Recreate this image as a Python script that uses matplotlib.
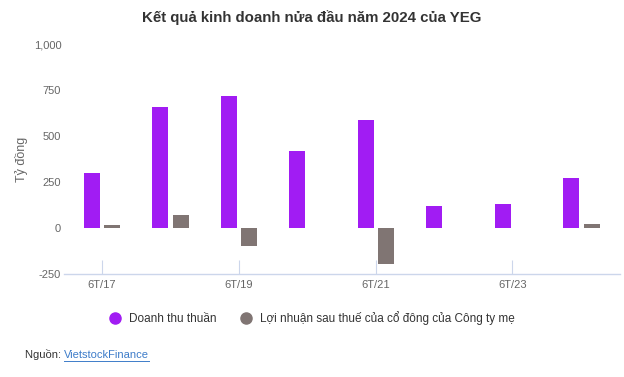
import matplotlib
matplotlib.use("Agg")
import matplotlib.pyplot as plt
import numpy as np
from matplotlib.lines import Line2D

categories = ["6T/17", "6T/18", "6T/19", "6T/20", "6T/21", "6T/22", "6T/23", "6T/24"]
revenue = [300, 660, 720, 420, 585, 120, 130, 270]
profit = [15, 70, -100, np.nan, -195, np.nan, np.nan, 20]
series_names = ["Doanh thu thuần", "Lợi nhuận sau thuế của cổ đông của Công ty mẹ"]
colors = ["#a11cf3", "#807573"]
yticks = [-250, 0, 250, 500, 750, 1000]

plt.rcParams['font.family'] = ['Liberation Sans', 'DejaVu Sans']

fig = plt.figure(figsize=(6.24, 3.77), dpi=100)
ax = fig.add_axes([64/624, 1 - 274/377, (620-64)/624, (274-44)/377])

x = np.arange(len(categories))
w = 0.235
ax.bar(x - 0.145, revenue, width=w, color=colors[0], zorder=3)
ax.bar(x + 0.155, profit, width=w, color=colors[1], zorder=3)

ax.set_xlim(-0.55, len(categories) - 0.43)
ax.set_ylim(-250, 1000)
ax.set_yticks(yticks)
ax.set_yticklabels([f"{v:,}" for v in yticks])
ax.set_xticks(x)
ax.set_xticklabels([c if i % 2 == 0 else "" for i, c in enumerate(categories)])

for s in ["top", "right", "left"]:
    ax.spines[s].set_visible(False)
ax.spines["bottom"].set_color("#ccd6eb")
ax.spines["bottom"].set_linewidth(1)
ax.tick_params(axis="y", length=0, labelsize=8, labelcolor="#666666", pad=2)
ax.tick_params(axis="x", direction="in", length=10, color="#ccd6eb", labelsize=8,
               labelcolor="#666666", pad=4)
for i, t in enumerate(ax.xaxis.get_major_ticks()):
    if i % 2 == 1:
        t.tick1line.set_visible(False)

ax.set_ylabel("Tỷ đồng", fontsize=9, color="#666666", labelpad=4)

fig.text(0.5, 1 - 18/377, "Kết quả kinh doanh nửa đầu năm 2024 của YEG", ha="center",
         va="center", fontsize=10.8, fontweight="bold", color="#333333")

handles = [Line2D([], [], marker="o", linestyle="", markersize=8, color=c) for c in colors]
leg = fig.legend(handles, series_names, loc="center", bbox_to_anchor=(0.5, 1 - 318/377),
                 ncol=2, frameon=False, fontsize=8.5, handletextpad=0.65, columnspacing=2.0,
                 handlelength=1.0)
for t in leg.get_texts():
    t.set_color("#333333")

t1 = fig.text(25/624, 1 - 355/377, "Nguồn: ", ha="left", va="center", fontsize=8, color="#333333")
fig.canvas.draw()
bb = t1.get_window_extent()
fig.text(bb.x1/624, 1 - 355/377, "VietstockFinance", ha="left", va="center", fontsize=8,
         color="#3d7cc9", url="https://finance.vietstock.vn")
fig.canvas.draw()
t2 = fig.texts[-1]
b2 = t2.get_window_extent()
fig.add_artist(Line2D([b2.x0/624, b2.x1/624], [b2.y0/377 - 0.002, b2.y0/377 - 0.002],
                      color="#3d7cc9", linewidth=0.7, transform=fig.transFigure))

fig.savefig("out.png", dpi=100)
